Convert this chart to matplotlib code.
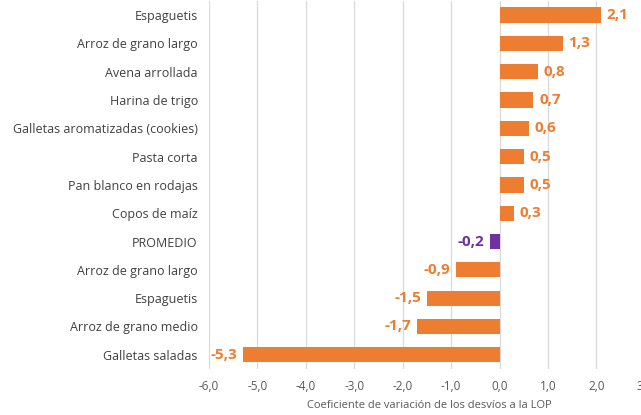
import matplotlib.pyplot as plt
from matplotlib.ticker import FuncFormatter

plt.rcParams['font.family'] = ['Open Sans', 'DejaVu Sans']

categories = ['Espaguetis', 'Arroz de grano largo', 'Avena arrollada', 'Harina de trigo',
              'Galletas aromatizadas (cookies)', 'Pasta corta', 'Pan blanco en rodajas',
              'Copos de maíz', 'PROMEDIO', 'Arroz de grano largo', 'Espaguetis',
              'Arroz de grano medio', 'Galletas saladas']
values = [2.1, 1.3, 0.8, 0.7, 0.6, 0.5, 0.5, 0.3, -0.2, -0.9, -1.5, -1.7, -5.3]
xticks = [-6, -5, -4, -3, -2, -1, 0, 1, 2, 3]

orange = '#ED7D31'
purple = '#7030A0'
colors = [purple if c == 'PROMEDIO' else orange for c in categories]

fig = plt.figure(figsize=(6.41, 4.15), dpi=100)
ax = fig.add_axes([0.326, 0.111, 0.68, 0.887])

pos = list(range(len(categories)))
ax.barh(pos, values, height=0.54, color=colors, zorder=3)
ax.set_ylim(len(categories) - 0.5, -0.5)
ax.set_yticks(pos)
ax.set_yticklabels(categories, fontsize=9, color='#404040')
ax.set_xlim(-6, 3)
ax.set_xticks(xticks)
ax.xaxis.set_major_formatter(FuncFormatter(lambda v, p: f'{v:.1f}'.replace('.', ',')))
ax.tick_params(axis='x', labelsize=8.5, colors='#595959', length=0, pad=8)
ax.tick_params(axis='y', length=0, pad=8)
ax.grid(axis='x', color='#D9D9D9', linewidth=0.9, zorder=0)
for s in ax.spines.values():
    s.set_visible(False)

for p, v, c in zip(pos, values, colors):
    lab = f'{v:.1f}'.replace('.', ',')
    if v >= 0:
        ax.annotate(lab, (v, p), xytext=(4, 0), textcoords='offset points',
                    ha='left', va='center', color=c, fontsize=11, fontweight='bold')
    else:
        ax.annotate(lab, (v, p), xytext=(-4, 0), textcoords='offset points',
                    ha='right', va='center', color=c, fontsize=11, fontweight='bold')

ax.set_xlabel('Coeficiente de variación de los desvíos a la LOP', fontsize=8,
              color='#595959')
ax.xaxis.set_label_coords(0.505, -0.085)

plt.savefig('out.png', dpi=100)
